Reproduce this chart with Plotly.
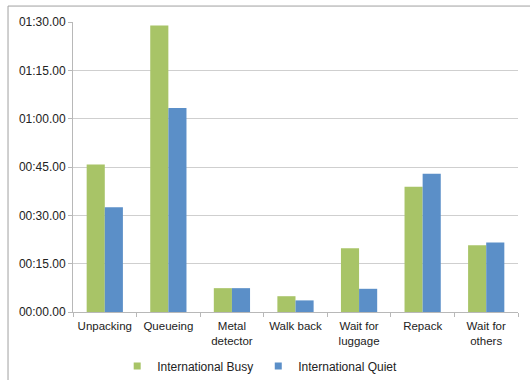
import plotly.graph_objects as go

categories = ["Unpacking", "Queueing", "Metal<br>detector", "Walk back",
              "Wait for<br>luggage", "Repack", "Wait for<br>others"]
busy_seconds = [45.8, 88.9, 7.4, 4.9, 19.8, 38.9, 20.7]
quiet_seconds = [32.5, 63.3, 7.4, 3.6, 7.2, 42.9, 21.6]
series_names = ["International Busy", "International Quiet"]
tick_values = [0, 15, 30, 45, 60, 75, 90]
tick_labels = ["00:00.00", "00:15.00", "00:30.00", "00:45.00",
               "01:00.00", "01:15.00", "01:30.00"]

GREEN = "#A8C467"
BLUE = "#5B8FC8"
FONT = "Liberation Sans, Arial, sans-serif"

fig = go.Figure()
fig.add_trace(go.Bar(x=categories, y=busy_seconds, name=series_names[0],
                     marker=dict(color=GREEN, line=dict(width=0)), showlegend=False))
fig.add_trace(go.Bar(x=categories, y=quiet_seconds, name=series_names[1],
                     marker=dict(color=BLUE, line=dict(width=0)), showlegend=False))
# legend entries with small square swatches
for nm, col in zip(series_names, [GREEN, BLUE]):
    fig.add_trace(go.Scatter(x=[None], y=[None], mode="markers", name=nm,
                             marker=dict(symbol="square", size=7, color=col)))

fig.update_layout(
    width=530, height=380,
    margin=dict(l=73, r=12, t=22, b=68, autoexpand=False),
    paper_bgcolor="white", plot_bgcolor="white",
    barmode="group", bargap=0.43, bargroupgap=0,
    font=dict(family=FONT, size=11, color="#222"),
    legend=dict(orientation="h", x=0.49, xanchor="center",
                xref="container", yref="container", y=0.037, yanchor="middle",
                font=dict(size=12, color="#222"), itemwidth=30,
                bgcolor="rgba(0,0,0,0)"),
    xaxis=dict(showline=True, linecolor="#b8b8b8", linewidth=1,
               ticks="outside", tickson="boundaries", ticklen=4, tickcolor="#b8b8b8",
               showgrid=False, tickfont=dict(size=11.5), automargin=False,
               ticklabelstandoff=3),
    yaxis=dict(range=[0, 90], tickvals=tick_values, ticktext=tick_labels,
               showline=True, linecolor="#b8b8b8", linewidth=1,
               ticks="outside", ticklen=4, tickcolor="#b8b8b8",
               showgrid=True, gridcolor="#cfcfcf", gridwidth=1, zeroline=False,
               tickfont=dict(size=12), automargin=False),
    shapes=[dict(type="rect", xref="paper", yref="paper",
                 x0=-0.146, x1=1.05, y0=-0.25, y1=1.055,
                 line=dict(color="#a0a0a0", width=1), layer="below")],
)

fig.write_html("out.html")
